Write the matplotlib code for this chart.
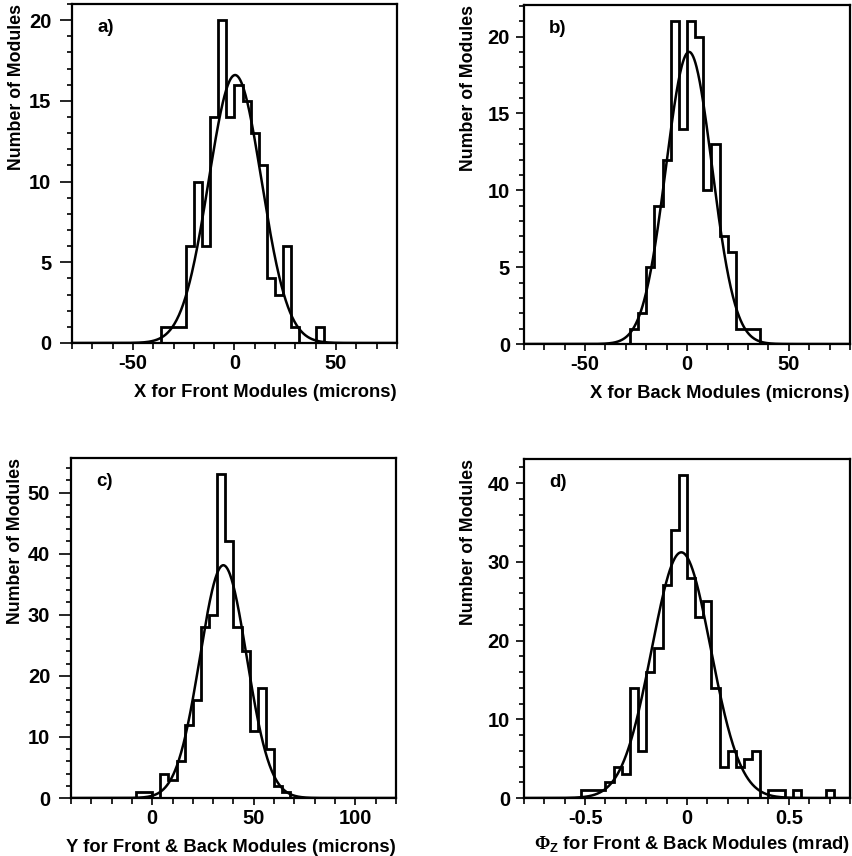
import numpy as np
import matplotlib
matplotlib.use("Agg")
import matplotlib.pyplot as plt
from matplotlib.ticker import MultipleLocator

plt.rcParams['font.family'] = ['Liberation Sans', 'DejaVu Sans']
plt.rcParams['font.weight'] = 'bold'
plt.rcParams['axes.unicode_minus'] = False
plt.rcParams['mathtext.fontset'] = 'custom'
plt.rcParams['mathtext.rm'] = 'Liberation Serif'
plt.rcParams['mathtext.bf'] = 'Liberation Sans:bold'

# histogram contents (first bin low edge, bin width, counts)
a_start, a_width = -36, 4
a_counts = [1, 1, 1, 6, 10, 6, 14, 20, 14, 16, 15, 13, 11, 4, 3, 6, 1, 0, 0, 1]
b_start, b_width = -28, 4
b_counts = [1, 2, 5, 9, 12, 21, 14, 21, 20, 10, 13, 7, 6, 1, 1, 1]
c_start, c_width = -8, 4
c_counts = [1, 1, 0, 4, 3, 6, 12, 16, 28, 30, 53, 42, 28, 24, 11, 18, 8, 2, 1]
d_start, d_width = -0.52, 0.04
d_counts = [1, 1, 1, 2, 4, 3, 14, 6, 16, 19, 27, 34, 41, 28, 23, 25, 14, 4, 6, 4,
            5, 6, 0, 1, 1, 0, 1, 0, 0, 0, 1]

# gaussian fit parameters (amplitude, mean, sigma)
a_fit = (16.6, 0.3, 13.0)
b_fit = (19.0, 1.0, 11.3)
c_fit = (38.1, 35.0, 11.5)
d_fit = (31.2, -0.028, 0.145)

x_ranges = [(-80, 80), (-80, 80), (-40, 120), (-0.8, 0.8)]
y_max = [21.0, 22.05, 55.65, 43.05]
x_major = [50, 50, 50, 0.5]
x_minor = [10, 10, 10, 0.1]
y_major = [5, 5, 10, 10]
y_minor = [1, 1, 2, 2]
letters = ['a)', 'b)', 'c)', 'd)']
x_titles = ['X for Front Modules (microns)',
            'X for Back Modules (microns)',
            'Y for Front & Back Modules (microns)',
            r'$\Phi_{\mathbf{Z}}$ for Front & Back Modules (mrad)']

W, H = 853, 856
fig = plt.figure(figsize=(W / 100, H / 100), dpi=100)

# frame boxes in pixels: left, top, right, bottom
boxes = [(72, 4, 397, 343), (524, 5, 850, 344),
         (71, 458, 396, 798), (524, 459, 850, 798)]

hists = [(a_start, a_width, a_counts, a_fit),
         (b_start, b_width, b_counts, b_fit),
         (c_start, c_width, c_counts, c_fit),
         (d_start, d_width, d_counts, d_fit)]

for i, (l, t, r, b) in enumerate(boxes):
    ax = fig.add_axes([l / W, 1 - b / H, (r - l) / W, (b - t) / H])
    start, width, counts, fit = hists[i]
    lo, hi = x_ranges[i]
    nbins = int(round((hi - lo) / width))
    full = np.zeros(nbins)
    k0 = int(round((start - lo) / width))
    full[k0:k0 + len(counts)] = counts
    edges = lo + width * np.arange(nbins + 1)
    ax.stairs(full, edges, baseline=0, color='black', lw=2.0)

    amp, mu, sig = fit
    xs = np.linspace(lo, hi, 600)
    ax.plot(xs, amp * np.exp(-0.5 * ((xs - mu) / sig) ** 2), color='black', lw=1.8)

    ax.set_xlim(lo, hi)
    ax.set_ylim(0, y_max[i])
    ax.xaxis.set_major_locator(MultipleLocator(x_major[i]))
    ax.xaxis.set_minor_locator(MultipleLocator(x_minor[i]))
    ax.yaxis.set_major_locator(MultipleLocator(y_major[i]))
    ax.yaxis.set_minor_locator(MultipleLocator(y_minor[i]))
    ax.tick_params(axis='both', which='both', direction='out', top=False, right=False,
                   labelsize=14.5, width=1.2)
    ax.tick_params(axis='x', which='major', length=5, pad=3)
    ax.tick_params(axis='x', which='minor', length=4)
    if i % 2 == 0:
        # left column: longer y ticks, labels further out
        ax.tick_params(axis='y', which='major', length=9, pad=6)
    else:
        ax.tick_params(axis='y', which='major', length=6, pad=4)
    ax.tick_params(axis='y', which='minor', length=3.5)
    if i == 3:
        ax.xaxis.set_major_formatter(plt.FuncFormatter(
            lambda v, p: '0' if abs(v) < 1e-9 else ('%g' % v)))
    for lab in ax.get_xticklabels() + ax.get_yticklabels():
        lab.set_fontweight('bold')
    for sp in ax.spines.values():
        sp.set_linewidth(1.6)

    ax.text(0.077, 0.93, letters[i], transform=ax.transAxes, fontsize=13.5,
            fontweight='bold', va='center', ha='left')
    ax.set_xlabel(x_titles[i], fontsize=13.2, fontweight='bold', loc='right',
                  labelpad=4 if i == 3 else 8)
    ax.set_ylabel('Number of Modules', fontsize=12.8, fontweight='bold', loc='top')
    ax.yaxis.set_label_coords(-0.145, 1.0)

fig.savefig('out.png', dpi=100)
